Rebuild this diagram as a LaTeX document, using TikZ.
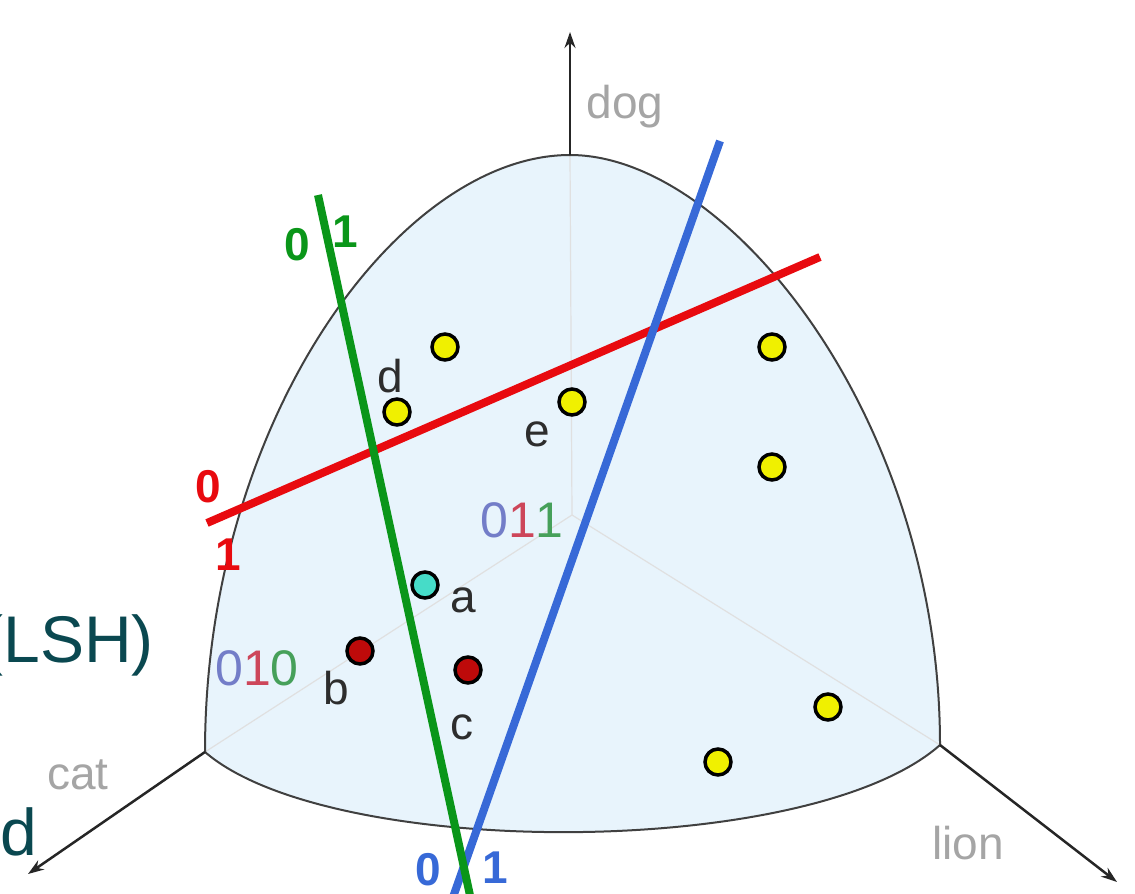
\documentclass[tikz,border=0pt]{standalone}
\usepackage{fontspec}
\setmainfont{Liberation Sans}
\usetikzlibrary{arrows.meta}
\definecolor{fillblue}{RGB}{232,244,252}
\definecolor{lgreen}{RGB}{10,150,25}
\definecolor{lblue}{RGB}{55,105,215}
\definecolor{lred}{RGB}{232,10,15}
\definecolor{slideteal}{RGB}{10,72,80}
\definecolor{axisgray}{RGB}{165,165,165}
\definecolor{fblue}{RGB}{115,125,200}
\definecolor{fred}{RGB}{205,70,90}
\definecolor{fgreen}{RGB}{70,160,90}
\definecolor{ptyellow}{RGB}{240,240,0}
\definecolor{ptred}{RGB}{190,10,10}
\definecolor{ptcyan}{RGB}{70,220,200}
\definecolor{labgray}{RGB}{45,45,45}
\tikzset{
  arcline/.style={draw=black!75, line width=2pt},
  innerline/.style={draw=black!12, line width=1.2pt},
  axisline/.style={draw=black!85, line width=2.5pt, -{Stealth[length=16pt,width=11pt]}},
  hashline/.style={line width=8pt},
  bitlab/.style={font=\fontsize{46}{50}\selectfont\bfseries, inner sep=0pt},
  codelab/.style={font=\fontsize{50}{54}\selectfont, inner sep=0pt},
  ptlab/.style={font=\fontsize{46}{50}\selectfont, text=labgray, inner sep=0pt},
  axislab/.style={font=\fontsize{46}{50}\selectfont, text=axisgray, inner sep=0pt},
  slidetext/.style={font=\fontsize{66}{70}\selectfont, text=slideteal, inner sep=0pt},
  dotbase/.style={circle, minimum size=26pt, inner sep=0pt, draw=black, line width=3.5pt},
  ydot/.style={dotbase, fill=ptyellow},
  rdot/.style={dotbase, fill=ptred},
  cdot/.style={dotbase, fill=ptcyan}
}
\begin{document}
\begin{tikzpicture}[x=1pt,y=-1pt]
\useasboundingbox (0,0) rectangle (1135,894);
% corners
\coordinate (dogc) at (570,155);
\coordinate (catc) at (205,752);
\coordinate (lionc) at (940,745);
\coordinate (ctr) at (572,515);
\coordinate (dogend) at (570,32);
\coordinate (catend) at (28,874);
\coordinate (lionend) at (1117,882);
% spherical triangle fill
\fill[fillblue] (dogc) .. controls (730,155) and (940,420) .. (lionc)
  .. controls (810,860) and (330,860) .. (catc)
  .. controls (205,420) and (400,155) .. (dogc) -- cycle;
% faint inner lines
\draw[innerline] (dogc) -- (ctr) -- (catc);
\draw[innerline] (ctr) -- (lionc);
% arcs
\draw[arcline] (dogc) .. controls (730,155) and (940,420) .. (lionc);
\draw[arcline] (lionc) .. controls (810,860) and (330,860) .. (catc);
\draw[arcline] (catc) .. controls (205,420) and (400,155) .. (dogc);
% axes
\draw[axisline] (dogc) -- (dogend);
\draw[axisline] (catc) -- (catend);
\draw[axisline] (lionc) -- (lionend);
\node[axislab] (doglab) at (625,107) {dog};
\node[axislab] (catlab) at (78,775) {cat};
\node[axislab] (lionlab) at (968,843) {lion};
% hash lines
\coordinate (r1) at (207,523);
\coordinate (r2) at (820,257);
\coordinate (b1) at (720,141);
\coordinate (b2) at (452,900);
\coordinate (g1) at (318,195);
\coordinate (g2) at (471,900);
\draw[hashline, lred] (r1) -- (r2);
\draw[hashline, lblue] (b1) -- (b2);
\draw[hashline, lgreen] (g1) -- (g2);
% bit labels
\node[bitlab, text=lgreen] (g0lab) at (297,245) {0};
\node[bitlab, text=lgreen] (g1lab) at (345,232) {1};
\node[bitlab, text=lred] (r0lab) at (208,487) {0};
\node[bitlab, text=lred] (r1lab) at (228,555) {1};
\node[bitlab, text=lblue] (b0lab) at (428,870) {0};
\node[bitlab, text=lblue] (b1lab) at (495,868) {1};
% codes
\node[codelab] (code011) at (522,520) {\textcolor{fblue}{0}\textcolor{fred}{1}\textcolor{fgreen}{1}};
\node[codelab] (code010) at (257,668) {\textcolor{fblue}{0}\textcolor{fred}{1}\textcolor{fgreen}{0}};
% points
\node[ydot] (p1) at (445,347) {};
\node[ydot] (pd) at (397,412) {};
\node[ydot] (pe) at (572,402) {};
\node[ydot] (p4) at (772,347) {};
\node[ydot] (p5) at (772,467) {};
\node[ydot] (p6) at (828,707) {};
\node[ydot] (p7) at (718,762) {};
\node[cdot] (pa) at (425,585) {};
\node[rdot] (pb) at (360,651) {};
\node[rdot] (pc) at (468,670) {};
\node[ptlab] (la) at (463,600) {a};
\node[ptlab] (lb) at (336,688) {b};
\node[ptlab] (lc) at (462,727) {c};
\node[ptlab] (ld) at (390,376) {d};
\node[ptlab] (le) at (537,434) {e};
% cut-off slide text
\node[slidetext, anchor=east] (lsh) at (154,645) {(LSH)};
\node[slidetext, anchor=east] (ed) at (37,832) {ed};
\end{tikzpicture}
\end{document}
